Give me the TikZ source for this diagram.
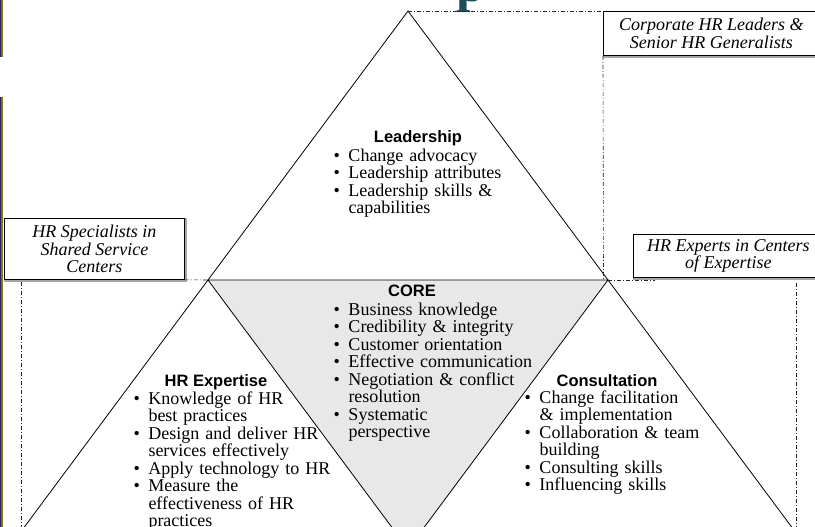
\documentclass[tikz,border=0pt]{standalone}
\usepackage{fontspec}
\setmainfont{Liberation Serif}
\setsansfont{Liberation Sans}
\definecolor{coregray}{RGB}{232,232,232}
\definecolor{barolive}{RGB}{138,114,18}
\definecolor{barnavy}{RGB}{30,40,90}
\definecolor{titleteal}{RGB}{28,78,92}
\newcommand{\bulletmark}{\leavevmode\llap{\textbullet\hspace{8.5pt}}}
\begin{document}
\begin{tikzpicture}[x=1pt,y=-1pt,
  edge/.style={line width=0.8pt, black, line join=miter},
  guide/.style={line width=0.6pt, black!85, dash pattern=on 4pt off 2pt on 1pt off 2pt},
  rolebox/.style={draw=black, line width=0.8pt, fill=white, inner sep=0pt},
  shade/.style={line width=1.2pt, black!35},
  roletext/.style={font=\fontsize{18}{17.5}\selectfont\itshape, align=center, inner sep=0pt},
  head/.style={font=\fontsize{16.5}{17}\selectfont\sffamily\bfseries, anchor=base, inner sep=0pt},
  items/.style={font=\fontsize{18}{17.5}\selectfont, text width=240pt, align=left, anchor=base west, inner sep=0pt},
]
\useasboundingbox (0,0) rectangle (815,527);
\begin{scope}
\clip (0,0) rectangle (815,527);

% corner points of the triangle grid
\coordinate (apex) at (408,11);
\coordinate (ml) at (208,280);
\coordinate (mr) at (608,280);
\coordinate (bl) at (8,549);
\coordinate (br) at (808,549);
\coordinate (bm) at (408,549);

% side bars
\fill[barolive] (0,0) rectangle (2.8,57);
\fill[barolive] (0,97) rectangle (2.8,527);
\fill[barnavy] (0,0) rectangle (0.8,57);
\fill[barnavy] (0,97) rectangle (0.8,527);

% fragment of the title glyph
\node[anchor=base west, inner sep=0pt, text=titleteal,
      font=\fontsize{52}{52}\selectfont\bfseries] (titlep) at (456,2) {p};

% core triangle and outer triangle
\fill[coregray] (ml) -- (mr) -- (bm) -- cycle;
\draw[edge] (apex) -- (bl) -- (br) -- cycle;
\draw[edge] (ml) -- (mr) -- (bm) -- cycle;

% role boxes
\node[rolebox, anchor=north west, minimum width=216, minimum height=44] (corp) at (603,11) {};
\node[rolebox, anchor=north west, minimum width=180, minimum height=61] (ssc) at (4,218) {};
\node[rolebox, anchor=north west, minimum width=190, minimum height=43] (coe) at (633,234) {};
\draw[shade] ([yshift=-1.2pt]corp.south west) -- ([yshift=-1.2pt]corp.south east);
\draw[shade] ([yshift=-1.2pt]ssc.south west) -- ([yshift=-1.2pt,xshift=1.2pt]ssc.south east) -- ([xshift=1.2pt]ssc.north east);
\draw[shade] ([yshift=-1.2pt]coe.south west) -- ([yshift=-1.2pt]coe.south east);

\node[roletext] (corpt) at (corp.center) {Corporate HR Leaders \&\\Senior HR Generalists};
\node[roletext] (ssct) at (ssc.center) {HR Specialists in\\Shared Service\\Centers};
\node[roletext] (coet) at (coe.center) {HR Experts in Centers\\of Expertise};

% dash-dot guides from the triangle corners to the roles
\coordinate (corpdown) at (603.5,280);
\coordinate (coeright) at (655,280);
\coordinate (sscleg) at (21.7,282);
\coordinate (sscfoot) at (21.7,527);
\coordinate (coeleg) at (796,283);
\coordinate (coefoot) at (796,527);
\draw[guide] (apex) -- (corp.north west);
\draw[guide] (corp.south west) -- (corpdown);
\draw[guide] (mr) -- (coeright);
\draw[guide] (ssc.south east) -- (ml);
\draw[guide] (sscleg) -- (sscfoot);
\draw[guide] (coeleg) -- (coefoot);

% competency headings
\node[head] (leadh) at (418,142.7) {Leadership};
\node[head] (coreh) at (412,296.7) {CORE};
\node[head] (expth) at (216,386) {HR Expertise};
\node[head] (consh) at (607,386) {Consultation};

% competency items
\node[items] (leadi) at (348.3,161) {\bulletmark Change advocacy\\
\bulletmark Leadership attributes\\
\bulletmark Leadership skills \&\\
capabilities};
\node[items] (corei) at (348.3,315) {\bulletmark Business knowledge\\
\bulletmark Credibility \& integrity\\
\bulletmark Customer orientation\\
\bulletmark Effective communication\\
\bulletmark Negotiation \& conflict\\
resolution\\
\bulletmark Systematic\\
perspective};
\node[items] (expti) at (148.3,404) {\bulletmark Knowledge of HR\\
best practices\\
\bulletmark Design and deliver HR\\
services effectively\\
\bulletmark Apply technology to HR\\
\bulletmark Measure the\\
effectiveness of HR\\
practices};
\node[items] (consi) at (539.3,403.3) {\bulletmark Change facilitation\\
\& implementation\\
\bulletmark Collaboration \& team\\
building\\
\bulletmark Consulting skills\\
\bulletmark Influencing skills};
\end{scope}
\end{tikzpicture}
\end{document}
